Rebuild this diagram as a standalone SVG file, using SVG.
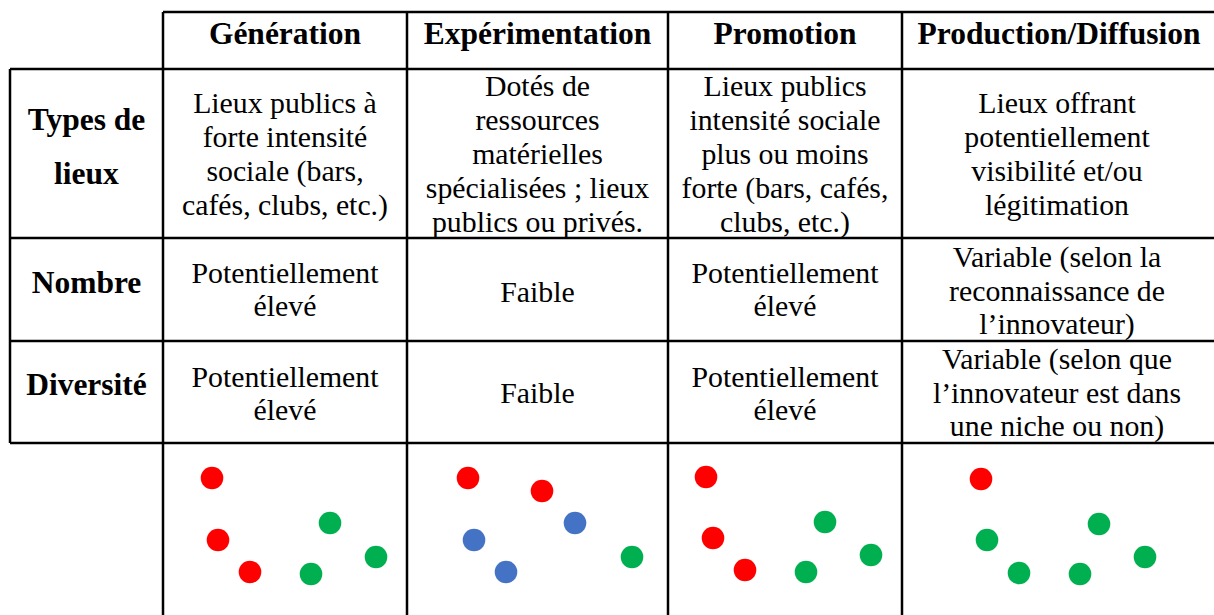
<svg xmlns="http://www.w3.org/2000/svg" width="1214" height="615" viewBox="0 0 1214 615">
<style>
.ln{stroke:#000;stroke-width:2.5;fill:none}
.h{font-family:"Liberation Serif","Times New Roman",serif;font-weight:bold;font-size:31.5px;text-anchor:middle;fill:#000}
.t{font-family:"Liberation Serif","Times New Roman",serif;font-size:29.8px;text-anchor:middle;fill:#000}
.r{fill:#FF0000}.g{fill:#00B050}.b{fill:#4472C4}
</style>
<rect width="1214" height="615" fill="#fff"/>
<g id="grid">
<line class="ln" x1="163" y1="12" x2="1214" y2="12"/>
<line class="ln" x1="10" y1="69" x2="1214" y2="69"/>
<line class="ln" x1="10" y1="238" x2="1214" y2="238"/>
<line class="ln" x1="10" y1="341" x2="1214" y2="341"/>
<line class="ln" x1="10" y1="443" x2="1214" y2="443"/>
<line class="ln" x1="10" y1="69" x2="10" y2="443"/>
<line class="ln" x1="163" y1="12" x2="163" y2="615"/>
<line class="ln" x1="407" y1="12" x2="407" y2="615"/>
<line class="ln" x1="668" y1="12" x2="668" y2="615"/>
<line class="ln" x1="902" y1="12" x2="902" y2="615"/>
</g>
<g id="headers">
<text class="h" x="285" y="44">Génération</text>
<text class="h" x="537.5" y="44">Expérimentation</text>
<text class="h" x="785" y="44">Promotion</text>
<text class="h" x="1059" y="44">Production/Diffusion</text>
</g>
<g id="row-labels">
<text class="h" x="86.5" y="130">Types de</text>
<text class="h" x="86.5" y="184">lieux</text>
<text class="h" x="86.5" y="293">Nombre</text>
<text class="h" x="86.5" y="395">Diversité</text>
</g>
<g id="row-types">
<text class="t" x="285"><tspan x="285" y="113">Lieux publics à</tspan><tspan x="285" y="147">forte intensité</tspan><tspan x="285" y="181">sociale (bars,</tspan><tspan x="285" y="215">cafés, clubs, etc.)</tspan></text>
<text class="t" x="537.5"><tspan x="537.5" y="96">Dotés de</tspan><tspan x="537.5" y="130">ressources</tspan><tspan x="537.5" y="164">matérielles</tspan><tspan x="537.5" y="198">spécialisées ; lieux</tspan><tspan x="537.5" y="232">publics ou privés.</tspan></text>
<text class="t" x="785"><tspan x="785" y="96">Lieux publics</tspan><tspan x="785" y="130">intensité sociale</tspan><tspan x="785" y="164">plus ou moins</tspan><tspan x="785" y="198">forte (bars, cafés,</tspan><tspan x="785" y="232">clubs, etc.)</tspan></text>
<text class="t" x="1057"><tspan x="1057" y="113">Lieux offrant</tspan><tspan x="1057" y="147">potentiellement</tspan><tspan x="1057" y="181">visibilité et/ou</tspan><tspan x="1057" y="215">légitimation</tspan></text>
</g>
<g id="row-nombre">
<text class="t" x="285"><tspan x="285" y="283">Potentiellement</tspan><tspan x="285" y="316">élevé</tspan></text>
<text class="t" x="537.5" y="302">Faible</text>
<text class="t" x="785"><tspan x="785" y="283">Potentiellement</tspan><tspan x="785" y="316">élevé</tspan></text>
<text class="t" x="1057"><tspan x="1057" y="267">Variable (selon la</tspan><tspan x="1057" y="301">reconnaissance de</tspan><tspan x="1057" y="334">l’innovateur)</tspan></text>
</g>
<g id="row-diversite">
<text class="t" x="285"><tspan x="285" y="387">Potentiellement</tspan><tspan x="285" y="420">élevé</tspan></text>
<text class="t" x="537.5" y="403">Faible</text>
<text class="t" x="785"><tspan x="785" y="387">Potentiellement</tspan><tspan x="785" y="420">élevé</tspan></text>
<text class="t" x="1057"><tspan x="1057" y="369">Variable (selon que</tspan><tspan x="1057" y="403">l’innovateur est dans</tspan><tspan x="1057" y="436">une niche ou non)</tspan></text>
</g>
<g id="dots-generation">
<circle class="r" cx="212" cy="478" r="11.3"/><circle class="r" cx="218" cy="540" r="11.3"/><circle class="r" cx="250" cy="572" r="11.3"/>
<circle class="g" cx="330" cy="523" r="11.3"/><circle class="g" cx="311" cy="574" r="11.3"/><circle class="g" cx="376" cy="557" r="11.3"/>
</g>
<g id="dots-experimentation">
<circle class="r" cx="468" cy="478" r="11.3"/><circle class="r" cx="542" cy="491" r="11.3"/>
<circle class="b" cx="575" cy="523" r="11.3"/><circle class="b" cx="474" cy="540" r="11.3"/><circle class="b" cx="506" cy="572" r="11.3"/>
<circle class="g" cx="632" cy="557" r="11.3"/>
</g>
<g id="dots-promotion">
<circle class="r" cx="706" cy="477" r="11.3"/><circle class="r" cx="713" cy="538" r="11.3"/><circle class="r" cx="745" cy="570" r="11.3"/>
<circle class="g" cx="825" cy="522" r="11.3"/><circle class="g" cx="806" cy="572" r="11.3"/><circle class="g" cx="871" cy="555" r="11.3"/>
</g>
<g id="dots-production">
<circle class="r" cx="981" cy="479" r="11.3"/>
<circle class="g" cx="987" cy="540" r="11.3"/><circle class="g" cx="1099" cy="524" r="11.3"/><circle class="g" cx="1019" cy="573" r="11.3"/><circle class="g" cx="1080" cy="574" r="11.3"/><circle class="g" cx="1145" cy="557" r="11.3"/>
</g>
</svg>
